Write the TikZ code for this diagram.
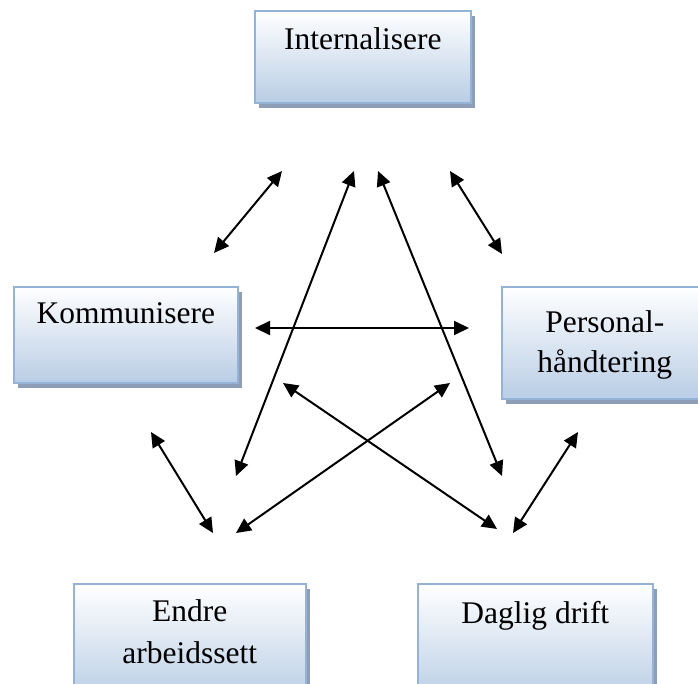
\documentclass[tikz,border=0pt]{standalone}
\usepackage{fontspec}
\setmainfont{Liberation Serif}
\usetikzlibrary{arrows.meta,shadows}
\definecolor{boxline}{RGB}{149,179,215}
\definecolor{boxfill}{RGB}{185,205,229}
\definecolor{boxshade}{RGB}{141,158,182}

\begin{document}
\begin{tikzpicture}[x=1pt,y=-1pt,
  box/.style={draw=boxline, line width=1.6pt, top color=white, bottom color=boxfill,
    drop shadow={shadow xshift=4pt,shadow yshift=-5pt,fill=boxshade,opacity=1},
    anchor=north west, inner xsep=0pt, inner ysep=0pt, align=center,
    font=\fontsize{31.5}{40}\selectfont},
  link/.style={{Triangle[length=15pt,width=14pt]}-{Triangle[length=15pt,width=14pt]}, line width=2pt}]
\useasboundingbox (0,0) rectangle (698,684);
\clip (0,0) rectangle (698,684);

% boxes
\node[box, minimum width=216pt, minimum height=92pt, text height=39pt, text depth=53pt] (int) at (254,10) {Internalisere};
\node[box, minimum width=224pt, minimum height=96pt, text height=37pt, text depth=59pt] (kom) at (13,286) {Kommunisere};
\node[box, minimum width=206pt, minimum height=112pt, text height=86pt, text depth=26pt] (pers) at (501,286) {Personal-\\håndtering};
\node[box, minimum width=232pt, minimum height=117pt, text height=80pt, text depth=37pt] (endre) at (73,583) {Endre\\[2pt]arbeidssett};
\node[box, minimum width=235pt, minimum height=117pt, text height=40pt, text depth=77pt] (drift) at (417,583) {Daglig drift};

% arrow ends
\coordinate (ik1) at (282,171); \coordinate (ik2) at (214,253);
\coordinate (ie1) at (354,171); \coordinate (ie2) at (236,476);
\coordinate (id1) at (378,171); \coordinate (id2) at (502,476);
\coordinate (ip1) at (450,171); \coordinate (ip2) at (502,254);
\coordinate (kp1) at (255,328); \coordinate (kp2) at (469,328);
\coordinate (kd1) at (283,383); \coordinate (kd2) at (497,529);
\coordinate (pe1) at (450,383); \coordinate (pe2) at (236,533);
\coordinate (ke1) at (151,432); \coordinate (ke2) at (213,533);
\coordinate (pd1) at (578,432); \coordinate (pd2) at (513,533);

\draw[link] (ik1) -- (ik2);
\draw[link] (ie1) -- (ie2);
\draw[link] (id1) -- (id2);
\draw[link] (ip1) -- (ip2);
\draw[link] (kp1) -- (kp2);
\draw[link] (kd1) -- (kd2);
\draw[link] (pe1) -- (pe2);
\draw[link] (ke1) -- (ke2);
\draw[link] (pd1) -- (pd2);
\end{tikzpicture}
\end{document}
